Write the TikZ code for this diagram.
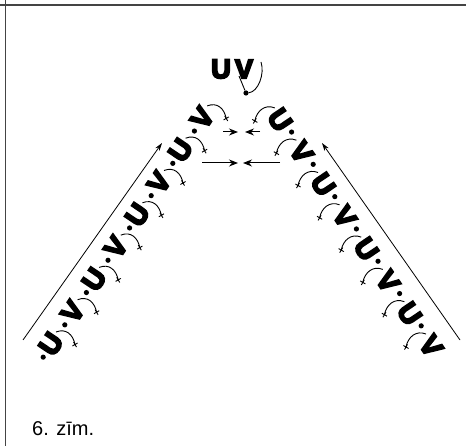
\documentclass[tikz,border=0pt]{standalone}
\usepackage{fontspec}
\setmainfont{Liberation Sans}
\newfontfamily\heavyfont{Liberation Sans Bold}[FakeBold=7]
\usetikzlibrary{arrows.meta,calc}
\definecolor{framegray}{HTML}{444444}
\tikzset{
  letter/.style={font=\fontsize{28}{28}\selectfont\heavyfont, inner sep=0pt, anchor=center},
  topletter/.style={font=\fontsize{27}{27}\selectfont\heavyfont, inner sep=0pt, anchor=center},
  dotmark/.style={circle, fill=black, inner sep=0pt, minimum size=5.2pt},
  bond/.style={line width=0.9pt},
  longarrow/.style={line width=0.8pt, -{Stealth[length=8pt,width=5pt]}},
  shortarrow/.style={line width=1pt, -{Stealth[length=9pt,width=7pt]}},
  framestyle/.style={framegray, line width=1.5pt},
}
\begin{document}
\begin{tikzpicture}[x=1pt,y=-1pt]
\useasboundingbox (0,0) rectangle (466,446);
% frame
\coordinate (fh1) at (0,5); \coordinate (fh2) at (466,5);
\coordinate (fv1) at (5.5,0); \coordinate (fv2) at (5.5,446);
\draw[framestyle] (fh1) -- (fh2);
\draw[framestyle] (fv1) -- (fv2);
% left chain
\foreach \k/\L in {0/U,1/V,2/U,3/V,4/U,5/V,6/U,7/V} {
  \pgfmathsetmacro{\px}{51+21.6*\k}
  \pgfmathsetmacro{\py}{344-32.3*\k}
  \node[letter, rotate=56] (L\k) at (\px,\py) {\L};
  \node[dotmark] (LD\k) at (\px-7.8,\py+13.15) {};
  \coordinate (LS\k) at (\px+5,\py-12);
  \coordinate (LE\k) at (\px+24,\py+0.5);
  \draw[bond] (LS\k) .. controls +(10,-4) and +(-2,-10) .. (LE\k);
  \draw[bond, shift={(LE\k)}, rotate=30] (-3,0) -- (3,0) (0,-3) -- (0,3);
}
% right chain
\foreach \j/\L in {0/U,1/V,2/U,3/V,4/U,5/V,6/U,7/V} {
  \pgfmathsetmacro{\qx}{279.8+21.6*\j}
  \pgfmathsetmacro{\qy}{119.9+32.3*\j}
  \node[letter, rotate=-56] (R\j) at (\qx,\qy) {\L};
  \coordinate (RS\j) at (\qx-5,\qy-12);
  \coordinate (RE\j) at (\qx-25,\qy+1);
  \draw[bond] (RS\j) .. controls +(-10,-4) and +(2,-10) .. (RE\j);
  \draw[bond, shift={(RE\j)}, rotate=-30] (-3,0) -- (3,0) (0,-3) -- (0,3);
}
\foreach \j in {1,...,7} {
  \pgfmathsetmacro{\qx}{279.8+21.6*\j-10.8+1}
  \pgfmathsetmacro{\qy}{119.9+32.3*\j-16.15-4}
  \node[dotmark] (RD\j) at (\qx,\qy) {};
}
% long arrows
\coordinate (la1) at (23,340); \coordinate (la2) at (162,143);
\coordinate (ra1) at (460,340); \coordinate (ra2) at (322,143);
\draw[longarrow] (la1) -- (la2);
\draw[longarrow] (ra1) -- (ra2);
% middle arrows
\coordinate (u1) at (223,132); \coordinate (u2) at (238,132);
\coordinate (u3) at (260,132); \coordinate (u4) at (245,132);
\coordinate (w1) at (202,163); \coordinate (w2) at (238,163);
\coordinate (w3) at (280,163); \coordinate (w4) at (243,163);
\draw[shortarrow] (u1) -- (u2);
\draw[shortarrow] (u3) -- (u4);
\draw[shortarrow] (w1) -- (w2);
\draw[shortarrow] (w3) -- (w4);
% top UV
\node[topletter] (TU) at (221,69) {U};
\node[topletter] (TV) at (244,69) {V};
\coordinate (TVs) at (239,76);
\node[dotmark] (TD) at (246,93) {};
\coordinate (TVe) at (261,62);
\draw[bond] (TVs) -- (TD);
\draw[bond] (TD) .. controls +(12,-1) and +(4,12) .. (TVe);
% caption
\node[anchor=base west, font=\fontsize{20}{20}\selectfont, inner sep=0pt] (cap) at (32,435) {6. zīm.};
\end{tikzpicture}
\end{document}
